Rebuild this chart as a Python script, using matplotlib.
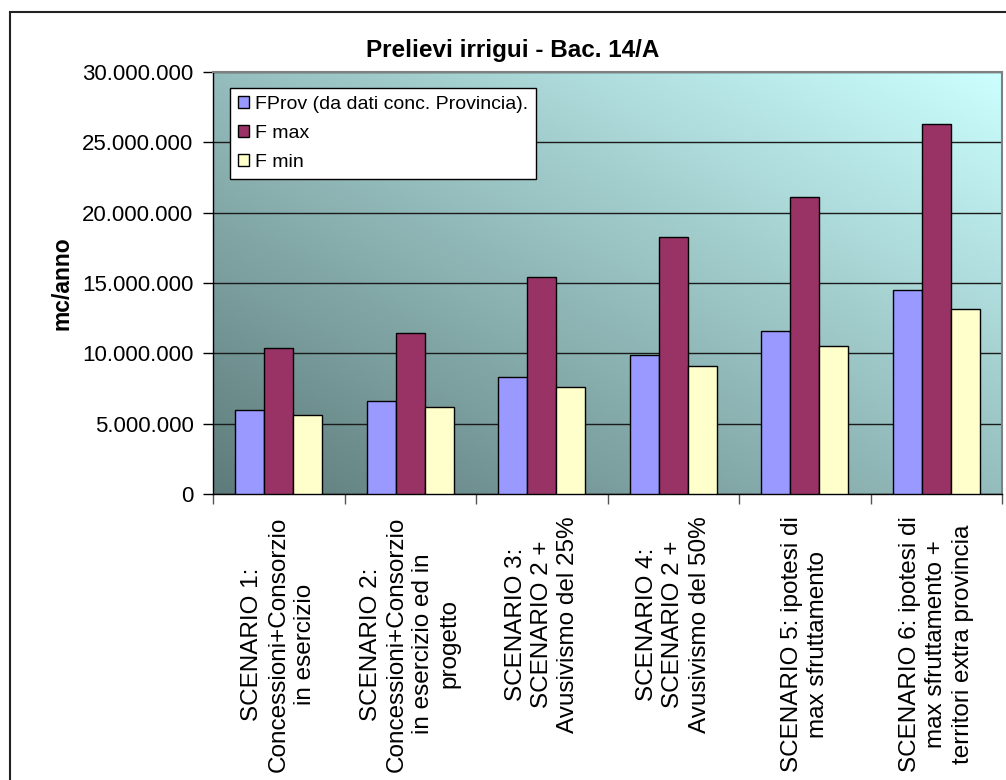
import matplotlib
matplotlib.use("Agg")
import matplotlib.pyplot as plt
import numpy as np
from matplotlib.colors import LinearSegmentedColormap
from matplotlib.patches import Rectangle
from matplotlib.ticker import FuncFormatter

plt.rcParams['font.family'] = ['Liberation Sans', 'DejaVu Sans']

# Dati (mc/anno)
scenari = [
    "SCENARIO 1:\nConcessioni+Consorzio\nin esercizio",
    "SCENARIO 2:\nConcessioni+Consorzio\nin esercizio ed in\nprogetto",
    "SCENARIO 3:\nSCENARIO 2 +\nAvusivismo del 25%",
    "SCENARIO 4:\nSCENARIO 2 +\nAvusivismo del 50%",
    "SCENARIO 5: ipotesi di\nmax sfruttamento",
    "SCENARIO 6: ipotesi di\nmax sfruttamento +\nterritori extra provincia",
]
f_prov = [5990000, 6580000, 8330000, 9890000, 11620000, 14530000]
f_max = [10360000, 11430000, 15400000, 18290000, 21110000, 26310000]
f_min = [5630000, 6220000, 7640000, 9110000, 10550000, 13180000]
serie = ["FProv (da dati conc. Provincia).", "F max", "F min"]
colori = ["#9999FF", "#993366", "#FFFFCC"]

fig = plt.figure(figsize=(10.06, 7.8), dpi=100)
ax = fig.add_axes([213 / 1006, 1 - 494 / 780, 789 / 1006, 422 / 780])

# cornice esterna del grafico (tagliata a destra e in basso)
fig.patches.append(Rectangle((10 / 1006, -0.1), 1.2, 0.1 + (780 - 12) / 780,
                             transform=fig.transFigure, fill=False,
                             edgecolor="#222222", linewidth=1.5))

# sfondo sfumato dell'area del tracciato
sfondo = LinearSegmentedColormap.from_list("sfondo", ["#5E7B7B", "#CCFFFF"])
xx, yy = np.meshgrid(np.linspace(0, 1, 300), np.linspace(0, 1, 300))
ax.imshow((xx + yy) / 2, cmap=sfondo, extent=[0, 1, 0, 1], origin="lower",
          transform=ax.transAxes, aspect="auto", zorder=0, interpolation="bilinear")

x = np.arange(len(scenari))
w = 0.22
for i, (vals, nome, col) in enumerate(zip([f_prov, f_max, f_min], serie, colori)):
    ax.bar(x + (i - 1) * w, vals, w, color=col, edgecolor="black", linewidth=1,
           label=nome, zorder=3)

ax.set_xlim(-0.5, len(scenari) - 0.5)
ax.set_ylim(0, 30000000)
ax.set_yticks(np.arange(0, 30000001, 5000000))
ax.yaxis.set_major_formatter(FuncFormatter(lambda v, p: f"{int(v):,}".replace(",", ".")))
ax.yaxis.grid(True, color="#1a1a1a", linewidth=1, zorder=1)
ax.set_axisbelow(True)

ax.set_xticks(x)
ax.set_xticklabels(scenari, rotation=90, ha="center", va="top",
                   multialignment="center", fontsize=17.5, linespacing=1.25)
ax.tick_params(axis="x", length=0, pad=16)
ax.set_xticks(np.arange(-0.5, len(scenari), 1), minor=True)
ax.tick_params(axis="x", which="minor", length=7, width=1, color="#555555")
ax.tick_params(axis="y", length=7, width=1, labelsize=16, pad=7)

for s in ["top", "right"]:
    ax.spines[s].set_color("#808080")
    ax.spines[s].set_linewidth(1.5)
for s in ["left", "bottom"]:
    ax.spines[s].set_color("black")
    ax.spines[s].set_linewidth(1)

fig.text(513 / 1006, 1 - 50 / 780, "Prelievi irrigui - Bac. 14/A", ha="center",
         va="center", fontsize=17.5, fontweight="bold")
fig.text(62 / 1006, 1 - 283 / 780, "mc/anno", ha="center", va="center",
         rotation=90, fontsize=16.5, fontweight="bold")

leg = ax.legend(loc="upper left", bbox_to_anchor=(0.0215, 0.962), fontsize=14,
                frameon=True, fancybox=False, framealpha=1, edgecolor="black",
                handlelength=0.6, handleheight=0.6, handletextpad=0.3,
                labelspacing=0.62, borderpad=0.4, borderaxespad=0)
leg.get_frame().set_linewidth(1)

fig.savefig("out.png", dpi=100)
